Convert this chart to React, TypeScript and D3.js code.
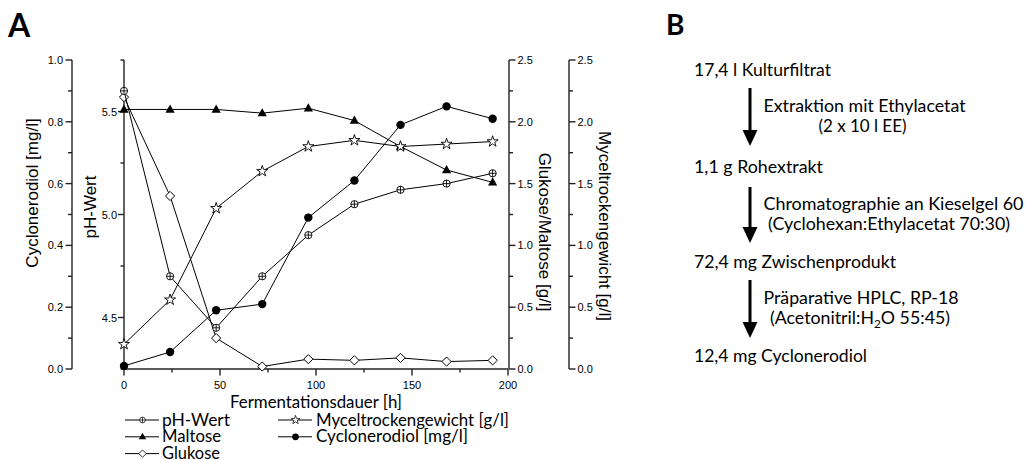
import React from "react";
import * as d3 from "d3";

const hours = [0, 24, 48, 72, 96, 120, 144, 168, 192];
const phWert = [5.6, 4.7, 4.45, 4.7, 4.9, 5.05, 5.12, 5.15, 5.2];
const maltose = [2.1, 2.1, 2.1, 2.07, 2.11, 2.01, 1.8, 1.61, 1.51];
const glukose = [2.2, 1.4, 0.25, 0.02, 0.08, 0.07, 0.09, 0.06, 0.07];
const mycel = [0.2, 0.56, 1.3, 1.6, 1.8, 1.85, 1.8, 1.82, 1.84];
const cyclo = [0.01, 0.055, 0.19, 0.21, 0.49, 0.61, 0.79, 0.85, 0.81];

const xTicks = [0, 50, 100, 150, 200];
const cycloTicks = [0, 0.2, 0.4, 0.6, 0.8, 1.0];
const phTicks = [4.5, 5.0, 5.5];
const gTicks = [0, 0.5, 1.0, 1.5, 2.0, 2.5];

const legendLabels = ["pH-Wert", "Maltose", "Glukose", "Myceltrockengewicht [g/l]", "Cyclonerodiol [mg/l]"];
const legendMarkers = ["cross", "tri", "diamond", "star", "dot"];
const legendWidths = [68, 59, 58, 193, 152];

const flowSteps = ["17,4 l Kulturfiltrat", "1,1 g Rohextrakt", "72,4 mg Zwischenprodukt", "12,4 mg Cyclonerodiol"];
const flowStepWidths = [137, 129, 202, 173];
const flowMethods = ["Extraktion mit Ethylacetat", "Chromatographie an Kieselgel 60", "Präparative HPLC, RP-18"];
const flowMethodWidths = [202, 260, 195];
const flowConditions = ["(2 x 10 l EE)", "(Cyclohexan:Ethylacetat 70:30)"];
const flowConditionWidths = [88, 242];

const SANS = "'Liberation Sans', Arial, sans-serif";
const LATO = "Lato, sans-serif";
const FS = 16.5;

const x = d3.scaleLinear().domain([0, 200]).range([124, 508]);
const yC = d3.scaleLinear().domain([0, 1]).range([369, 60]);
const yPH = d3.scaleLinear().domain([4.25, 5.75]).range([369, 60]);
const yG = d3.scaleLinear().domain([0, 2.5]).range([369, 60]);

function Marker({ type, cx, cy, s = 1 }: { type: string; cx: number; cy: number; s?: number }) {
  const t = `translate(${cx},${cy}) scale(${s})`;
  if (type === "cross")
    return (
      <g transform={t}>
        <circle r={3.6} fill="#fff" stroke="#000" strokeWidth={0.9} />
        <path d="M-3.6,0H3.6M0,-3.6V3.6" stroke="#000" strokeWidth={0.9} />
      </g>
    );
  if (type === "tri") return <path transform={t} d="M0,-5L4.6,3.2L-4.6,3.2Z" fill="#000" />;
  if (type === "diamond")
    return <path transform={t} d="M0,-4.6L4.6,0L0,4.6L-4.6,0Z" fill="#fff" stroke="#000" strokeWidth={1} />;
  if (type === "star")
    return (
      <path transform={t} d={d3.symbol().type(d3.symbolStar).size(38)() as string} fill="#fff" stroke="#000" strokeWidth={0.9} />
    );
  return <circle transform={t} r={4.2} fill="#000" />;
}

function Series({ vals, y, marker }: { vals: number[]; y: d3.ScaleLinear<number, number>; marker: string }) {
  const line = d3
    .line<number>()
    .x((_, i) => x(hours[i]))
    .y((v) => y(v));
  return (
    <g>
      <path d={line(vals) as string} fill="none" stroke="#000" strokeWidth={1} />
      {vals.map((v, i) => (
        <Marker key={i} type={marker} cx={x(hours[i])} cy={y(v)} />
      ))}
    </g>
  );
}

function range(a: number, b: number, s: number) {
  const out: number[] = [];
  for (let v = a; v <= b + 1e-9; v += s) out.push(+v.toFixed(3));
  return out;
}

function Txt(props: any) {
  const { w, children, ...rest } = props;
  return (
    <text fontFamily={LATO} fontSize={FS} textLength={w} lengthAdjust="spacingAndGlyphs" {...rest}>
      {children}
    </text>
  );
}

export default function App() {
  const axisStroke = "#222";
  const aw = 1.4;
  const stepY = [76, 173, 268, 362];
  const methodY = [112, 210, 304];
  const arrows = [[88, 146], [187, 243], [280, 338]];
  return (
    <svg width={1030} height={460} style={{ position: "absolute", left: 0, top: 0, background: "#fff" }}>
      <text x={8} y={37} fontFamily={LATO} fontWeight={700} fontSize={32}>A</text>
      <text x={666} y={35} fontFamily={LATO} fontWeight={700} fontSize={28}>B</text>

      {/* Left Cyclonerodiol axis */}
      <line x1={72} x2={72} y1={yC(0)} y2={yC(1)} stroke={axisStroke} strokeWidth={aw} />
      {range(0, 1, 0.1).map((v, i) => (
        <line key={v} x1={72} x2={i % 2 === 0 ? 65.5 : 68} y1={yC(v)} y2={yC(v)} stroke={axisStroke} strokeWidth={aw} />
      ))}
      {cycloTicks.map((v) => (
        <text key={v} x={63} y={yC(v) + 4} textAnchor="end" fontFamily={SANS} fontSize={11}>{v.toFixed(1)}</text>
      ))}
      <text transform={`translate(38,193) rotate(-90)`} textAnchor="middle" fontFamily={SANS} fontSize={17}>Cyclonerodiol [mg/l]</text>

      {/* pH axis */}
      <line x1={124} x2={124} y1={yPH(4.25)} y2={yPH(5.75)} stroke={axisStroke} strokeWidth={aw} />
      {range(4.25, 5.75, 0.25).map((v, i) => (
        <line key={v} x1={124} x2={i % 2 === 1 ? 118 : 120.5} y1={yPH(v)} y2={yPH(v)} stroke={axisStroke} strokeWidth={aw} />
      ))}
      {phTicks.map((v) => (
        <text key={v} x={117} y={yPH(v) + 4} textAnchor="end" fontFamily={SANS} fontSize={11}>{v.toFixed(1)}</text>
      ))}
      <text transform={`translate(96,207) rotate(-90)`} textAnchor="middle" fontFamily={SANS} fontSize={17}>pH-Wert</text>

      {/* Bottom axis */}
      <line x1={x(0)} x2={x(200)} y1={369} y2={369} stroke={axisStroke} strokeWidth={aw} />
      {range(0, 200, 25).map((v, i) => (
        <line key={v} x1={x(v)} x2={x(v)} y1={369} y2={i % 2 === 0 ? 375.5 : 372.5} stroke={axisStroke} strokeWidth={aw} />
      ))}
      {xTicks.map((v) => (
        <text key={v} x={x(v)} y={389} textAnchor="middle" fontFamily={SANS} fontSize={11}>{v}</text>
      ))}
      <Txt x={230} y={407.5} w={172}>Fermentationsdauer [h]</Txt>

      {/* Right axes */}
      {[509, 569].map((ax) => (
        <g key={ax}>
          <line x1={ax} x2={ax} y1={yG(0)} y2={yG(2.5)} stroke={axisStroke} strokeWidth={aw} />
          {range(0, 2.5, 0.25).map((v, i) => (
            <line key={v} x1={ax} x2={ax + (i % 2 === 0 ? 6.5 : 4)} y1={yG(v)} y2={yG(v)} stroke={axisStroke} strokeWidth={aw} />
          ))}
          {gTicks.map((v) => (
            <text key={v} x={ax + 8.5} y={yG(v) + 4} fontFamily={SANS} fontSize={11}>{v.toFixed(1)}</text>
          ))}
        </g>
      ))}
      <text transform={`translate(539,232) rotate(90)`} textAnchor="middle" fontFamily={SANS} fontSize={17}>Glukose/Maltose [g/l]</text>
      <text transform={`translate(599,226) rotate(90)`} textAnchor="middle" fontFamily={SANS} fontSize={17}>Myceltrockengewicht [g/l]</text>

      {/* Series */}
      <Series vals={glukose} y={yG} marker="diamond" />
      <Series vals={maltose} y={yG} marker="tri" />
      <Series vals={mycel} y={yG} marker="star" />
      <Series vals={phWert} y={yPH} marker="cross" />
      <Series vals={cyclo} y={yC} marker="dot" />

      {/* Legend */}
      {legendLabels.map((lab, i) => {
        const col = i < 3 ? 0 : 1;
        const row = i < 3 ? i : i - 3;
        const x0 = col === 0 ? 125 : 278;
        const yy = 420 + row * 16.8;
        return (
          <g key={lab}>
            <line x1={x0} x2={x0 + 34} y1={yy} y2={yy} stroke="#000" strokeWidth={1} />
            <Marker type={legendMarkers[i]} cx={x0 + 17.5} cy={yy} s={0.8} />
            <Txt x={x0 + (col === 0 ? 37 : 38)} y={yy + 5.5} w={legendWidths[i]}>{lab}</Txt>
          </g>
        );
      })}

      {/* Panel B flow */}
      {flowSteps.map((s, i) => (
        <Txt key={s} x={694} y={stepY[i]} w={flowStepWidths[i]}>{s}</Txt>
      ))}
      {arrows.map(([a, b], i) => (
        <g key={i}>
          <line x1={750} x2={750} y1={a} y2={b - 14} stroke="#000" strokeWidth={3} />
          <path d={`M742.5,${b - 16}L757.5,${b - 16}L750,${b}Z`} fill="#000" />
        </g>
      ))}
      {flowMethods.map((s, i) => (
        <Txt key={s} x={763.5} y={methodY[i]} w={flowMethodWidths[i]}>{s}</Txt>
      ))}
      <Txt x={818.5} y={132} w={flowConditionWidths[0]}>{flowConditions[0]}</Txt>
      <Txt x={768} y={230} w={flowConditionWidths[1]}>{flowConditions[1]}</Txt>
      <text x={770} y={324} fontFamily={LATO} fontSize={FS} textLength={180} lengthAdjust="spacingAndGlyphs">
        (Acetonitril:H<tspan dy={4} fontSize={11}>2</tspan><tspan dy={-4}>O 55:45)</tspan>
      </text>
    </svg>
  );
}
